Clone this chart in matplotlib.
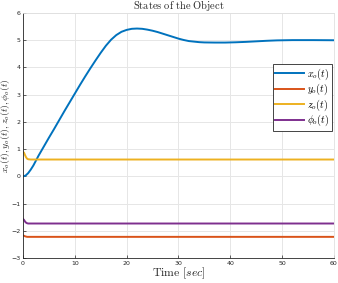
import numpy as np
import matplotlib
matplotlib.use('Agg')
from matplotlib import pyplot as plt

plt.rcParams['mathtext.fontset'] = 'cm'

# tiempo y estados
t_x = [0, 0.5, 1, 1.5, 2, 2.5, 3, 4, 5, 6, 7, 8, 9, 10, 11, 12, 13, 14, 15,
       16, 17, 18, 19, 20, 21, 22, 23, 24, 25, 26, 27, 28, 29, 30, 31, 32, 33,
       34, 35, 37, 39, 41, 43, 45, 47, 49, 52, 56, 60]
x_o = [0, 0.03, 0.12, 0.25, 0.4, 0.58, 0.76, 1.09, 1.42, 1.74, 2.07, 2.4,
       2.72, 3.04, 3.36, 3.67, 3.97, 4.26, 4.54, 4.8, 5.02, 5.19, 5.31, 5.38,
       5.42, 5.43, 5.42, 5.39, 5.35, 5.3, 5.24, 5.18, 5.12, 5.06, 5.01, 4.97,
       4.95, 4.93, 4.92, 4.915, 4.915, 4.925, 4.94, 4.96, 4.98, 4.995, 5.005,
       5.005, 5.0]

t_s = [0, 0.2, 0.4, 0.6, 0.8, 1.0, 1.5, 60]
y_o = [-2.17, -2.18, -2.2, -2.21, -2.22, -2.22, -2.22, -2.22]
z_o = [0.9, 0.87, 0.78, 0.7, 0.65, 0.63, 0.62, 0.62]
phi_o = [-1.56, -1.6, -1.66, -1.7, -1.72, -1.73, -1.73, -1.73]

colores = ['#0072BD', '#D95319', '#EDB120', '#7E2F8E']

fig = plt.figure(figsize=(3.38, 2.83), dpi=100)
ax = fig.add_axes([0.068, 0.088, 0.920, 0.866])

ax.plot(t_x, x_o, color=colores[0], lw=1.4, label=r'$x_o(t)$')
ax.plot(t_s, y_o, color=colores[1], lw=1.4, label=r'$y_o(t)$')
ax.plot(t_s, z_o, color=colores[2], lw=1.4, label=r'$z_o(t)$')
ax.plot(t_s, phi_o, color=colores[3], lw=1.4, label=r'$\phi_o(t)$')

ax.set_xlim(0, 60)
ax.set_ylim(-3, 6)
ax.set_xticks(range(0, 61, 10))
ax.set_yticks(range(-3, 7))
ax.grid(True, color='#e6e6e6', lw=0.7)
ax.set_axisbelow(True)
ax.tick_params(labelsize=4.5, colors='#262626', direction='in', length=2, width=0.5, pad=2)
for s in ['left', 'bottom']:
    ax.spines[s].set_color('#262626')
    ax.spines[s].set_linewidth(0.6)
for s in ['top', 'right']:
    ax.spines[s].set_color('#e0e0e0')
    ax.spines[s].set_linewidth(0.6)

ax.set_title(r'$\mathrm{States\ of\ the\ Object}$', fontsize=7.5, pad=0.5, color='#262626')
ax.set_xlabel(r'$\mathrm{Time}\ [sec]$', fontsize=8.5, labelpad=0, color='#262626')
ax.set_ylabel(r'$x_o(t), y_o(t), z_o(t), \phi_o(t)$', fontsize=7, color='#262626')
ax.yaxis.set_label_coords(-0.036, 0.54)

leg = ax.legend(loc='upper right', bbox_to_anchor=(0.993, 0.792), fontsize=7.2,
                fancybox=False, edgecolor='#262626', framealpha=1, handlelength=2.9,
                borderpad=0.25, labelspacing=0.02, handletextpad=0.25, borderaxespad=0)
leg.get_frame().set_linewidth(0.6)

fig.savefig('out.png', dpi=100)
